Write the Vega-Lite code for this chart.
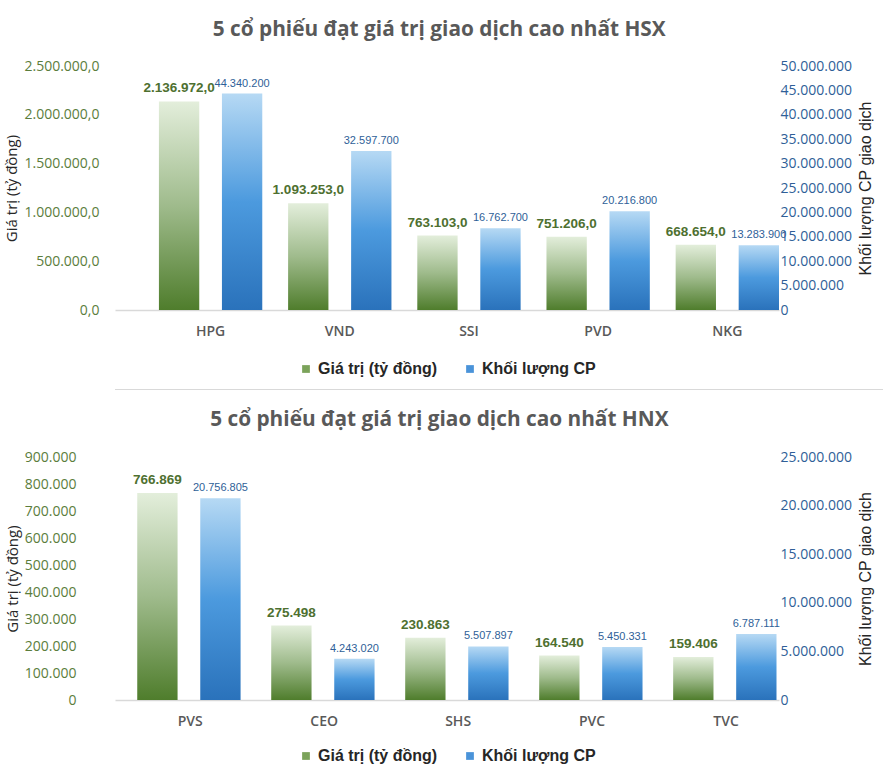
{
  "$schema": "https://vega.github.io/schema/vega-lite/v6.json",
  "background": "white",
  "padding": {"left": 4, "right": 2, "top": 19, "bottom": 0},
  "config": {
    "locale": {"number": {"decimal": ",", "thousands": ".", "grouping": [3], "currency": ["", " ₫"]}},
    "view": {"stroke": null},
    "font": "Open Sans",
    "legend": {"layout": {"bottom": {"anchor": "middle"}}}
  },
  "spacing": 12,
  "columns": 1,
  "align": "none",
  "resolve": {"scale": {"color": "independent"}, "legend": {"color": "independent"}},
  "concat": [
    {
      "width": 664,
      "height": 244,
      "title": {"text": "5 cổ phiếu đạt giá trị giao dịch cao nhất HSX", "font": "Open Sans", "fontSize": 20.8, "fontWeight": "bold", "color": "#595959", "anchor": "middle", "frame": "bounds", "offset": 18},
      "data": {"values": [
        {"ma": "HPG", "gia_tri": 2136972, "khoi_luong": 44340200},
        {"ma": "VND", "gia_tri": 1093253, "khoi_luong": 32597700},
        {"ma": "SSI", "gia_tri": 763103, "khoi_luong": 16762700},
        {"ma": "PVD", "gia_tri": 751206, "khoi_luong": 20216800},
        {"ma": "NKG", "gia_tri": 668654, "khoi_luong": 13283900}
      ]},
      "transform": [{"fold": ["gia_tri", "khoi_luong"], "as": ["key", "value"]}],
      "encoding": {
        "x": {"field": "ma", "type": "nominal", "sort": null,
              "scale": {"paddingInner": 0.2, "paddingOuter": 0.17, "align": 1},
              "axis": {"title": null, "labelAngle": 0, "domainColor": "#d9d9d9", "domainWidth": 1.5, "ticks": false, "labelPadding": 14, "labelFontSize": 14, "labelFontWeight": 600, "labelColor": "#595959", "labelFont": "Open Sans"}},
        "xOffset": {"field": "key", "type": "nominal", "scale": {"domain": ["gia_tri", "khoi_luong"], "paddingInner": 0.36, "paddingOuter": 0}}
      },
      "layer": [
        {
          "transform": [{"filter": "datum.key == 'gia_tri'"}],
          "encoding": {"y": {"field": "value", "type": "quantitative", "scale": {"domain": [0, 2500000], "nice": false},
            "axis": {"title": "Giá trị (tỷ đồng)", "orient": "left", "values": [0, 500000, 1000000, 1500000, 2000000, 2500000], "format": ",.1f", "domain": false, "ticks": false, "grid": false, "labelPadding": 16, "labelFontSize": 14, "labelColor": "#5b7d3c", "labelFont": "Open Sans", "titleFont": "Open Sans", "titleFontSize": 15, "titleFontWeight": "normal", "titleColor": "#262626", "titlePadding": 4}}},
          "layer": [
            {"mark": {"type": "bar", "color": {"gradient": "linear", "x1": 0, "y1": 0, "x2": 0, "y2": 1, "stops": [{"offset": 0, "color": "#e3eedb"}, {"offset": 0.5, "color": "#9fbb8c"}, {"offset": 1, "color": "#4f7d2c"}]}}},
            {"mark": {"type": "text", "baseline": "bottom", "dy": -6, "font": "Liberation Sans", "fontWeight": "bold", "fontSize": 13.5, "color": "#4e7030"},
             "encoding": {"text": {"field": "value", "type": "quantitative", "format": ",.1f"}}}
          ]
        },
        {
          "transform": [{"filter": "datum.key == 'khoi_luong'"}],
          "encoding": {"y": {"field": "value", "type": "quantitative", "scale": {"domain": [0, 50000000], "nice": false},
            "axis": {"title": "Khối lượng CP giao dịch", "orient": "right", "values": [0, 5000000, 10000000, 15000000, 20000000, 25000000, 30000000, 35000000, 40000000, 45000000, 50000000], "format": ",.0f", "domain": false, "ticks": false, "grid": false, "labelPadding": 1, "labelFontSize": 14, "labelColor": "#2f5f98", "labelFont": "Open Sans", "titleFont": "Liberation Sans", "titleFontSize": 16, "titleFontWeight": "normal", "titleColor": "#262626", "titleAngle": 270, "titleBaseline": "top", "titlePadding": 6}}},
          "layer": [
            {"mark": {"type": "bar", "color": {"gradient": "linear", "x1": 0, "y1": 0, "x2": 0, "y2": 1, "stops": [{"offset": 0, "color": "#b6d9f4"}, {"offset": 0.5, "color": "#4c9ade"}, {"offset": 1, "color": "#2a72bb"}]}}},
            {"mark": {"type": "text", "baseline": "bottom", "dy": -5, "font": "Liberation Sans", "fontSize": 11, "color": "#2f5f98"},
             "encoding": {"text": {"field": "value", "type": "quantitative", "format": ",.0f"}}}
          ]
        },
        {
          "mark": {"type": "point", "filled": true, "opacity": 0},
          "encoding": {"color": {"field": "key", "type": "nominal",
            "scale": {"domain": ["gia_tri", "khoi_luong"], "range": ["#7ba35a", "#4a93d9"]},
            "legend": {"title": null, "orient": "bottom", "direction": "horizontal", "labelExpr": "datum.value == 'gia_tri' ? 'Giá trị (tỷ đồng)' : 'Khối lượng CP'", "symbolType": "square", "symbolSize": 60, "symbolOpacity": 1, "symbolStrokeWidth": 0, "labelFont": "Liberation Sans", "labelFontWeight": "bold", "labelFontSize": 16, "labelColor": "#262626", "columnPadding": 24, "offset": 23}}}
        }
      ],
      "resolve": {"scale": {"y": "independent"}}
    },
    {
      "width": 877,
      "height": 1,
      "view": {"fill": "#d9d9d9", "stroke": null},
      "title": {"text": " ", "orient": "bottom", "fontSize": 5, "offset": 2},
      "data": {"values": []},
      "mark": "rect",
      "encoding": {}
    },
    {
      "width": 664,
      "height": 243,
      "title": {"text": "5 cổ phiếu đạt giá trị giao dịch cao nhất HNX", "font": "Open Sans", "fontSize": 20.8, "fontWeight": "bold", "color": "#595959", "anchor": "middle", "frame": "bounds", "offset": 19},
      "data": {"values": [
        {"ma": "PVS", "gia_tri": 766869, "khoi_luong": 20756805},
        {"ma": "CEO", "gia_tri": 275498, "khoi_luong": 4243020},
        {"ma": "SHS", "gia_tri": 230863, "khoi_luong": 5507897},
        {"ma": "PVC", "gia_tri": 164540, "khoi_luong": 5450331},
        {"ma": "TVC", "gia_tri": 159406, "khoi_luong": 6787111}
      ]},
      "transform": [{"fold": ["gia_tri", "khoi_luong"], "as": ["key", "value"]}],
      "encoding": {
        "x": {"field": "ma", "type": "nominal", "sort": null,
              "scale": {"paddingInner": 0.21, "paddingOuter": 0.083, "align": 1},
              "axis": {"title": null, "labelAngle": 0, "domainColor": "#d9d9d9", "domainWidth": 1.5, "ticks": false, "labelPadding": 14, "labelFontSize": 14, "labelFontWeight": 600, "labelColor": "#595959", "labelFont": "Open Sans"}},
        "xOffset": {"field": "key", "type": "nominal", "scale": {"domain": ["gia_tri", "khoi_luong"], "paddingInner": 0.34, "paddingOuter": 0}}
      },
      "layer": [
        {
          "transform": [{"filter": "datum.key == 'gia_tri'"}],
          "encoding": {"y": {"field": "value", "type": "quantitative", "scale": {"domain": [0, 900000], "nice": false},
            "axis": {"title": "Giá trị (tỷ đồng)", "orient": "left", "values": [0, 100000, 200000, 300000, 400000, 500000, 600000, 700000, 800000, 900000], "format": ",.0f", "domain": false, "ticks": false, "grid": false, "labelPadding": 39, "labelFontSize": 14, "labelColor": "#5b7d3c", "labelFont": "Open Sans", "titleFont": "Open Sans", "titleFontSize": 15, "titleFontWeight": "normal", "titleColor": "#262626", "titlePadding": 4}}},
          "layer": [
            {"mark": {"type": "bar", "color": {"gradient": "linear", "x1": 0, "y1": 0, "x2": 0, "y2": 1, "stops": [{"offset": 0, "color": "#e3eedb"}, {"offset": 0.5, "color": "#9fbb8c"}, {"offset": 1, "color": "#4f7d2c"}]}}},
            {"mark": {"type": "text", "baseline": "bottom", "dy": -6, "font": "Liberation Sans", "fontWeight": "bold", "fontSize": 13.5, "color": "#4e7030"},
             "encoding": {"text": {"field": "value", "type": "quantitative", "format": ",.0f"}}}
          ]
        },
        {
          "transform": [{"filter": "datum.key == 'khoi_luong'"}],
          "encoding": {"y": {"field": "value", "type": "quantitative", "scale": {"domain": [0, 25000000], "nice": false},
            "axis": {"title": "Khối lượng CP giao dịch", "orient": "right", "values": [0, 5000000, 10000000, 15000000, 20000000, 25000000], "format": ",.0f", "domain": false, "ticks": false, "grid": false, "labelPadding": 1, "labelFontSize": 14, "labelColor": "#2f5f98", "labelFont": "Open Sans", "titleFont": "Liberation Sans", "titleFontSize": 16, "titleFontWeight": "normal", "titleColor": "#262626", "titleAngle": 270, "titleBaseline": "top", "titlePadding": 6}}},
          "layer": [
            {"mark": {"type": "bar", "color": {"gradient": "linear", "x1": 0, "y1": 0, "x2": 0, "y2": 1, "stops": [{"offset": 0, "color": "#b6d9f4"}, {"offset": 0.5, "color": "#4c9ade"}, {"offset": 1, "color": "#2a72bb"}]}}},
            {"mark": {"type": "text", "baseline": "bottom", "dy": -5, "font": "Liberation Sans", "fontSize": 11, "color": "#2f5f98"},
             "encoding": {"text": {"field": "value", "type": "quantitative", "format": ",.0f"}}}
          ]
        },
        {
          "mark": {"type": "point", "filled": true, "opacity": 0},
          "encoding": {"color": {"field": "key", "type": "nominal",
            "scale": {"domain": ["gia_tri", "khoi_luong"], "range": ["#7ba35a", "#4a93d9"]},
            "legend": {"title": null, "orient": "bottom", "direction": "horizontal", "labelExpr": "datum.value == 'gia_tri' ? 'Giá trị (tỷ đồng)' : 'Khối lượng CP'", "symbolType": "square", "symbolSize": 60, "symbolOpacity": 1, "symbolStrokeWidth": 0, "labelFont": "Liberation Sans", "labelFontWeight": "bold", "labelFontSize": 16, "labelColor": "#262626", "columnPadding": 24, "offset": 20}}}
        }
      ],
      "resolve": {"scale": {"y": "independent"}}
    }
  ]
}
